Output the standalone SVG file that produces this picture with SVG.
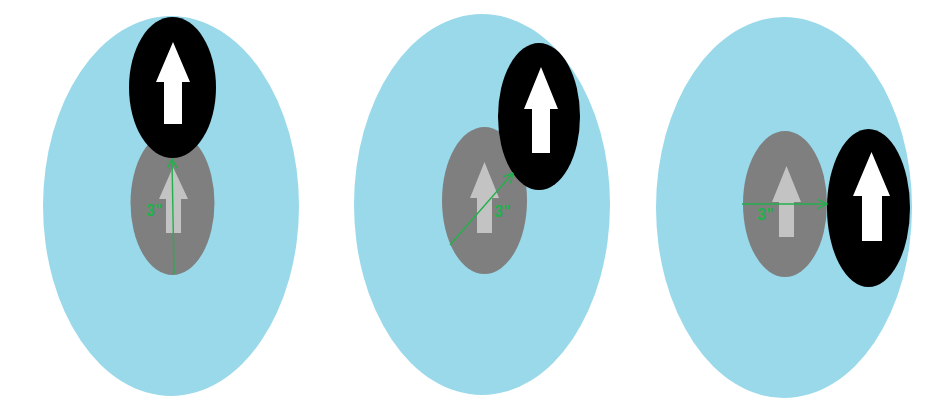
<svg xmlns="http://www.w3.org/2000/svg" width="934" height="419" viewBox="0 0 934 419">
<style>
.outer{fill:#99d9ea}
.inner{fill:#7f7f7f}
.puck{fill:#000}
.arrW{fill:#fff}
.arrG{fill:#c3c3c3}
.dim{stroke:#22b14c;stroke-width:1.4;fill:none}
.lbl{font-family:"Liberation Sans",Arial,sans-serif;font-weight:bold;font-size:16px;fill:#22b14c}
</style>
<defs>
<marker id="ah" viewBox="0 0 10 10" refX="9.5" refY="5" markerWidth="11" markerHeight="11" markerUnits="userSpaceOnUse" orient="auto">
<path d="M1,0.5 L9.5,5 L1,9.5" fill="none" stroke="#22b14c" stroke-width="1.3"/>
</marker>
</defs>
<rect width="934" height="419" fill="#fff"/>
<g id="panel1">
<ellipse class="outer" cx="171" cy="206" rx="128" ry="190"/>
<ellipse class="inner" cx="172.5" cy="203" rx="42" ry="72"/>
<polygon class="arrG" points="173,167 188,199 181,199 181,233 166,233 166,199 159,199"/>
<ellipse class="puck" cx="172.5" cy="87.5" rx="43.5" ry="70.5"/>
<polygon class="arrW" points="173,42 190,82 182,82 182,124 164,124 164,82 156,82"/>
</g>
<g id="panel2">
<ellipse class="outer" cx="482" cy="204.5" rx="128" ry="190.5"/>
<ellipse class="inner" cx="484.5" cy="200.5" rx="42.5" ry="73.5"/>
<polygon class="arrG" points="484.5,162 499,198 492,198 492,233 477,233 477,198 470,198"/>
<ellipse class="puck" cx="539" cy="116.5" rx="41" ry="73.5"/>
<polygon class="arrW" points="541,67 558,109 550,109 550,153 532,153 532,109 524,109"/>
</g>
<g id="panel3">
<ellipse class="outer" cx="784" cy="207.5" rx="128" ry="190.5"/>
<ellipse class="inner" cx="785" cy="204" rx="42" ry="73"/>
<polygon class="arrG" points="786.5,166 801,202 794,202 794,237 779,237 779,202 772,202"/>
<ellipse class="puck" cx="868.5" cy="208" rx="41.5" ry="79"/>
<polygon class="arrW" points="871.5,152 890,196 882,196 882,241 862,241 862,196 853,196"/>
</g>
<g id="connectors">
<line class="dim" x1="174" y1="274" x2="172" y2="159" marker-end="url(#ah)"/>
<line class="dim" x1="450" y1="245" x2="513" y2="173" marker-end="url(#ah)"/>
<line class="dim" x1="742" y1="204" x2="827" y2="204" marker-end="url(#ah)"/>
</g>
<g id="labels">
<text class="lbl" x="146" y="216">3"</text>
<text class="lbl" x="494" y="217">3"</text>
<text class="lbl" x="757" y="220">3"</text>
</g>
</svg>
